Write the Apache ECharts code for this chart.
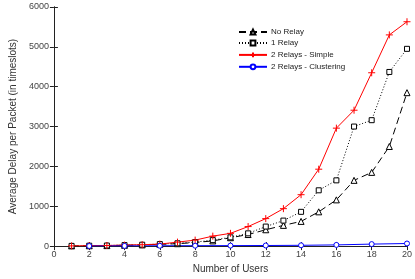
<!DOCTYPE html>
<html><head><meta charset="utf-8">
<script src="https://cdn.jsdelivr.net/npm/echarts@6/dist/echarts.min.js"></script>
<style>html,body{margin:0;padding:0;background:#fff}#c{width:415px;height:279px}</style>
</head><body><div id="c"></div>
<script>
const users = [1,2,3,4,5,6,7,8,9,10,11,12,13,14,15,16,17,18,19,20];
const noRelay = [5,8,12,20,30,45,60,90,130,210,290,410,520,620,860,1160,1650,1850,2500,3850];
const oneRelay = [5,10,15,25,35,50,70,100,150,220,320,490,640,860,1400,1650,3000,3160,4370,4950];
const simple = [5,10,15,25,35,50,100,150,250,320,490,690,940,1290,1930,2960,3410,4350,5300,5630];
const clusterUsers = [2,4,6,8,10,12,14,16,18,20];
const clustering = [2,5,8,10,12,15,20,30,50,65];
const xTicks = [0,2,4,6,8,10,12,14,16,18,20];
const yTicks = [0,1000,2000,3000,4000,5000,6000];

const font = 'Liberation Sans, Arial, sans-serif';
const pair = (xs, ys) => xs.map((x,i)=>[x, ys[i]]);
const chart = echarts.init(document.getElementById('c'), null, {renderer:'canvas'});
const axLine = {show:true, lineStyle:{color:'#222', width:1}};
const tick = {show:true, inside:true, length:4, lineStyle:{color:'#222'}};
chart.setOption({
  animation:false,
  backgroundColor:'#fff',
  grid:{left:46, right:7, top:7, bottom:29},
  legend:{
    left:233, top:23, orient:'vertical', itemGap:3, itemWidth:28, itemHeight:6,
    textStyle:{fontFamily:font, fontSize:8, color:'#222', padding:[0,0,0,-1]},
    data:['No Relay','1 Relay','2 Relays - Simple','2 Relays - Clustering']
  },
  xAxis:[{
    type:'value', min:0, max:20, interval:2,
    name:'Number of Users', nameLocation:'middle', nameGap:16,
    nameTextStyle:{fontFamily:font, fontSize:10, color:'#333'},
    axisLine:axLine, axisTick:tick, splitLine:{show:false},
    axisLabel:{fontFamily:font, fontSize:9, color:'#444', margin:4}
  },{
    type:'value', min:0, max:20, interval:2, position:'top',
    axisLine:axLine, axisTick:tick, splitLine:{show:false}, axisLabel:{show:false}
  }],
  yAxis:[{
    type:'value', min:0, max:6000, interval:1000,
    name:'Average Delay per Packet (in timeslots)', nameLocation:'middle', nameGap:31,
    nameTextStyle:{fontFamily:font, fontSize:10, color:'#333'},
    axisLine:axLine, axisTick:tick, splitLine:{show:false},
    axisLabel:{fontFamily:font, fontSize:9, color:'#444', margin:5, formatter:v=>String(v)}
  },{
    type:'value', min:0, max:6000, interval:1000, position:'right',
    axisLine:axLine, axisTick:tick, splitLine:{show:false}, axisLabel:{show:false}
  }],
  series:[
    {name:'No Relay', type:'line', data:pair(users,noRelay), symbol:'triangle', symbolSize:6,
     lineStyle:{color:'#000', width:1, type:[7,4]}, itemStyle:{color:'#fff', borderColor:'#000', borderWidth:1}},
    {name:'1 Relay', type:'line', data:pair(users,oneRelay), symbol:'rect', symbolSize:5,
     lineStyle:{color:'#000', width:1, type:[1,2]}, itemStyle:{color:'#fff', borderColor:'#000', borderWidth:1}},
    {name:'2 Relays - Simple', type:'line', data:pair(users,simple), symbol:'path://M0,-5 L0,5 M-5,0 L5,0', symbolSize:7,
     lineStyle:{color:'#ff0000', width:1}, itemStyle:{color:'none', borderColor:'#ff0000', borderWidth:1}},
    {name:'2 Relays - Clustering', type:'line', data:pair(clusterUsers,clustering), symbol:'circle', symbolSize:5,
     lineStyle:{color:'#0000ff', width:1}, itemStyle:{color:'#fff', borderColor:'#0000ff', borderWidth:1}}
  ]
});
</script></body></html>
